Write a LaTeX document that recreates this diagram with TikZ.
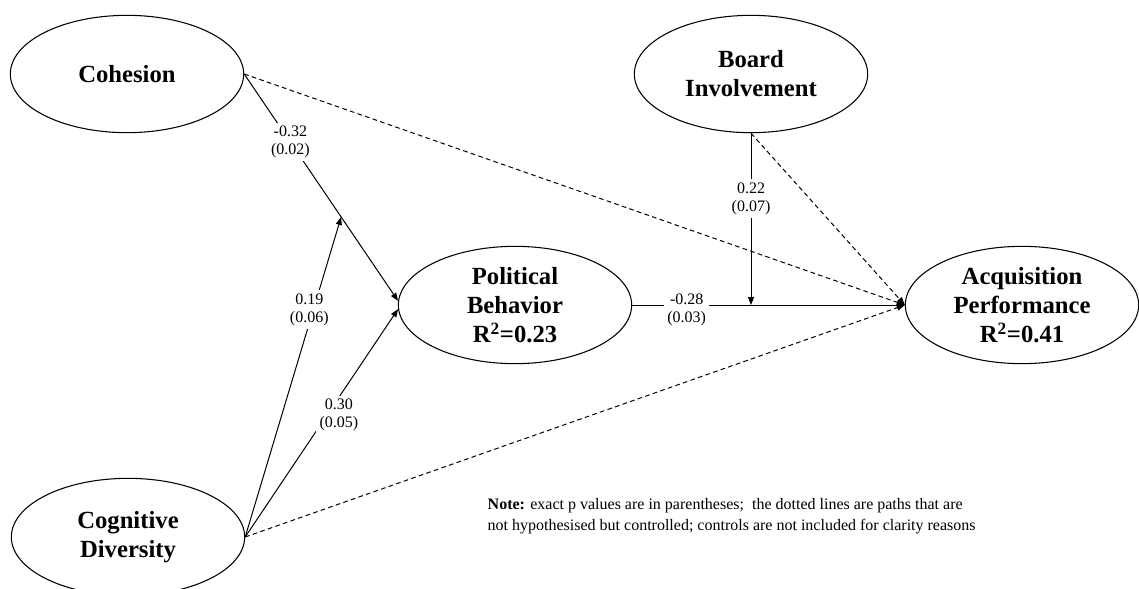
\documentclass[tikz,border=0pt]{standalone}
\usepackage{fontspec}
\setmainfont{Liberation Serif}
\usepackage{tikz}
\usetikzlibrary{shapes.geometric, arrows.meta, calc}

\begin{document}
\begin{tikzpicture}[
    x=0.75pt, y=-0.75pt,
    latent/.style={draw, ellipse, line width=0.8pt, minimum width=175pt, minimum height=88pt, inner sep=0pt, align=center, font=\fontsize{18.5}{21.75}\selectfont\bfseries},
    arrow/.style={-{Triangle[length=6pt, width=4.5pt]}, line width=0.75pt},
    control/.style={arrow, dash pattern=on 3.5pt off 2.5pt},
    coef/.style={fill=white, inner sep=2.5pt, align=center, font=\fontsize{12}{13.5}\selectfont}
]
    \useasboundingbox (0,0) rectangle (1139,589);
    \clip (0,0) rectangle (1139,589);

    \node[latent] (coh) at (127,74) {Cohesion};
    \node[latent] (cd) at (128,537) {Cognitive\\Diversity};
    \node[latent] (bi) at (751,74) {Board\\Involvement};
    \node[latent] (pb) at (515,305) {Political\\Behavior\\R\textsuperscript{2}=0.23};
    \node[latent] (ap) at (1022,305) {Acquisition\\Performance\\R\textsuperscript{2}=0.41};

    \coordinate (m1) at ($(coh.east)!0.63!(pb.178)$);
    \coordinate (m2) at (bi.south |- pb.east);

    % controls (dotted)
    \draw[control] (coh.east) -- (ap.west);
    \draw[control] (bi.south) -- (ap.west);
    \draw[control] (cd.east) -- (ap.west);

    % hypothesised paths
    \draw[arrow] (coh.east) -- node[coef, pos=0.3] {-0.32\\(0.02)} (pb.178);
    \draw[arrow] (cd.east) -- node[coef, pos=0.71, xshift=-3pt] {0.19\\(0.06)} (m1);
    \draw[arrow] (cd.east) -- node[coef, pos=0.535, xshift=9pt] {0.30\\(0.05)} (pb.182);
    \draw[arrow] (pb.east) -- node[coef, pos=0.2, yshift=-4pt] {-0.28\\(0.03)} (ap.west);
    \draw[arrow] (bi.south) -- node[coef, pos=0.38] {0.22\\(0.07)} (m2);

    \node[anchor=north west, align=left, font=\fontsize{12}{15.75}\selectfont] (note) at (483,494)
        {\textbf{Note:} exact p values are in parentheses;~ the dotted lines are paths that are\\
         not hypothesised but controlled; controls are not included for clarity reasons};
\end{tikzpicture}
\end{document}
